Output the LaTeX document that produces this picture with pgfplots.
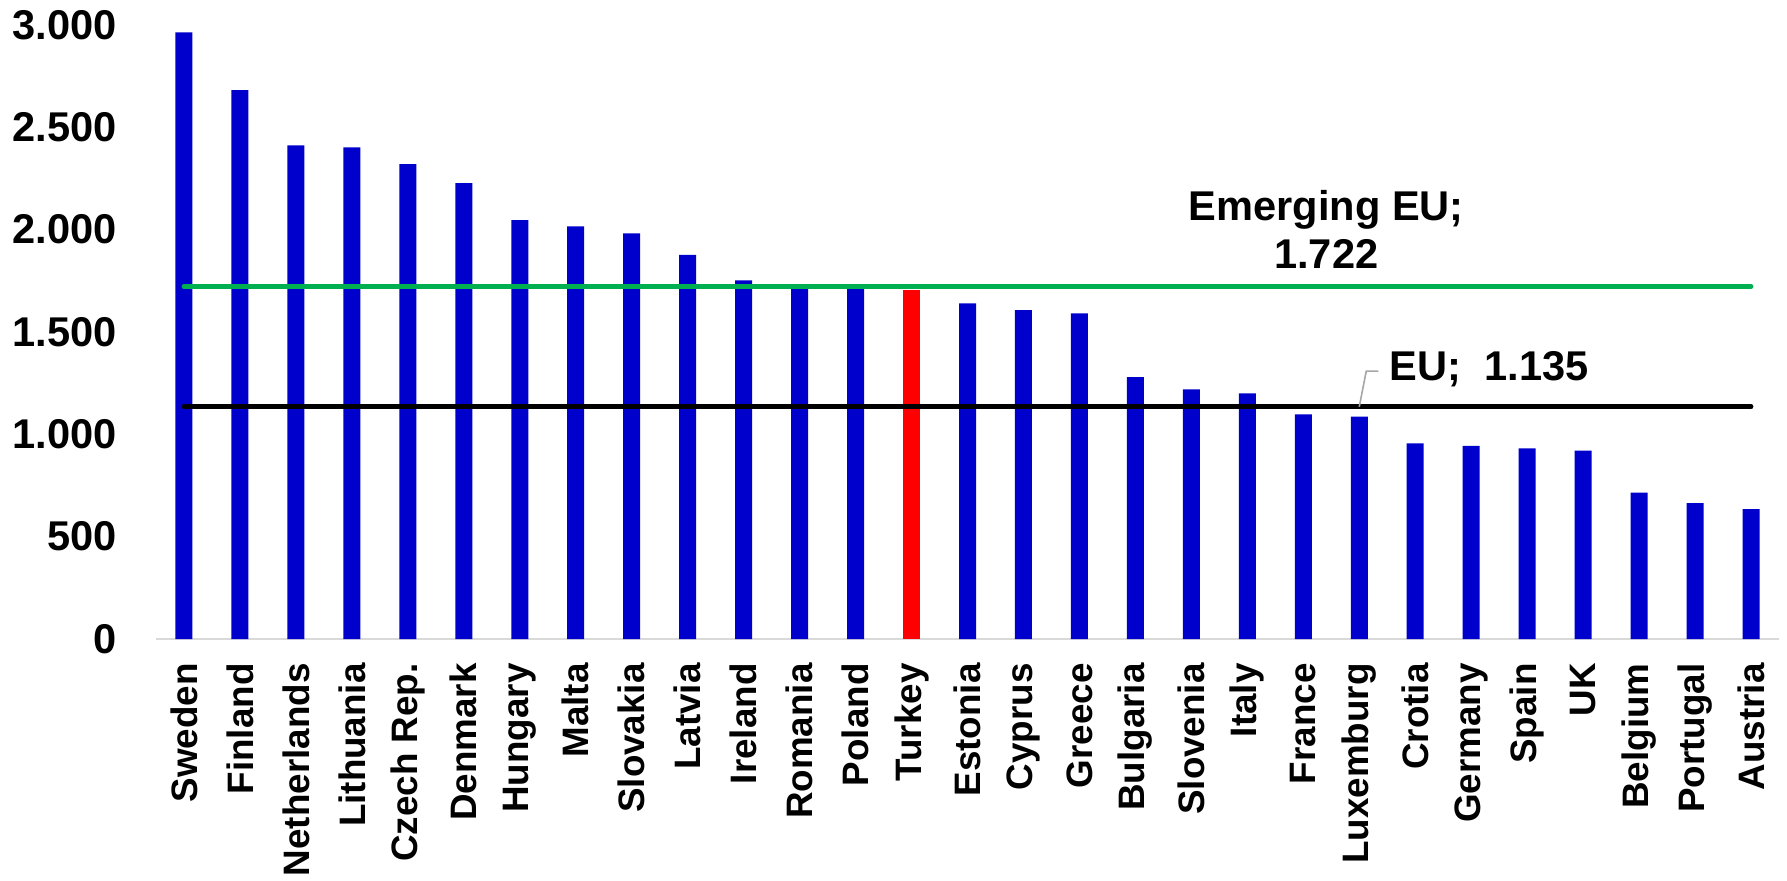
\documentclass[border=0pt]{standalone}
\usepackage{fontspec}
\setmainfont{Liberation Sans}
\usepackage{pgfplots}
\pgfplotsset{compat=1.18}
\definecolor{barblue}{HTML}{0000CC}
\definecolor{turkeyred}{HTML}{FF0000}
\definecolor{emgreen}{HTML}{00B050}
\definecolor{axisgray}{HTML}{D9D9D9}
\definecolor{leadergray}{HTML}{A6A6A6}
\begin{document}
\begin{tikzpicture}
 \begin{axis}[
 at={(0,0)}, anchor=south west,
 scale only axis,
 width=811.5pt, height=307pt,
 xmin=-0.5, xmax=28.5,
 ymin=0, ymax=3000,
 ytick={0,500,1000,1500,2000,2500,3000},
 xtick={0,1,...,28},
 xticklabels={Sweden,Finland,Netherlands,Lithuania,Czech Rep.,Denmark,Hungary,Malta,Slovakia,Latvia,Ireland,Romania,Poland,Turkey,Estonia,Cyprus,Greece,Bulgaria,Slovenia,Italy,France,Luxemburg,Crotia,Germany,Spain,UK,Belgium,Portugal,Austria},
 axis x line*=bottom, axis y line*=left,
 x axis line style={draw=axisgray, line width=1pt},
 y axis line style={draw=none},
 major tick length=0pt,
 tick style={draw=none},
 /pgf/number format/assume math mode=true,
 /pgf/number format/1000 sep={.},
 yticklabel style={font=\bfseries\fontsize{20.8}{24}\selectfont, anchor=east, inner sep=0pt},
 yticklabel shift=19.5pt,
 xticklabel style={font=\bfseries\fontsize{18.4}{22}\selectfont, rotate=90, anchor=east, inner sep=0pt},
 xticklabel shift=12pt,
 clip=false,
 ]
 % blue bars
 \addplot[ybar, bar width=8.5pt, bar shift=0pt, fill=barblue, draw=none]
 table[x=idx,y=val] {
 idx val
 0 2964
 1 2682
 2 2412
 3 2402
 4 2320
 5 2228
 6 2047
 7 2016
 8 1982
 9 1877
 10 1752
 11 1725
 12 1720
 14 1640
 15 1607
 16 1591
 17 1280
 18 1220
 19 1200
 20 1098
 21 1086
 22 956
 23 944
 24 931
 25 920
 26 715
 27 664
 28 635
 };
 % Turkey
 \addplot[ybar, bar width=8.5pt, bar shift=0pt, fill=turkeyred, draw=none]
 coordinates {(13,1705)};
 % reference lines
 \addplot[emgreen, line width=2.4pt, line cap=round] coordinates {(0,1722) (28,1722)};
 \addplot[black, line width=2.4pt, line cap=round] coordinates {(0,1135) (28,1135)};
 \draw[leadergray, line width=0.8pt] (axis cs:21,1135) -- (axis cs:21.125,1309) -- (axis cs:21.34,1309);
 \node[font=\bfseries\fontsize{20.8}{24}\selectfont, align=center] at (axis cs:20.41,2003) {Emerging EU;\\1.722};
 \node[font=\bfseries\fontsize{20.8}{24}\selectfont, anchor=west, inner sep=0pt] at (axis cs:21.54,1319) {EU;\ \ 1.135};
 \end{axis}
 \pgfresetboundingbox
 \useasboundingbox (-78pt,-120.5pt) rectangle (815.5pt,319.5pt);
\end{tikzpicture}
\end{document}
